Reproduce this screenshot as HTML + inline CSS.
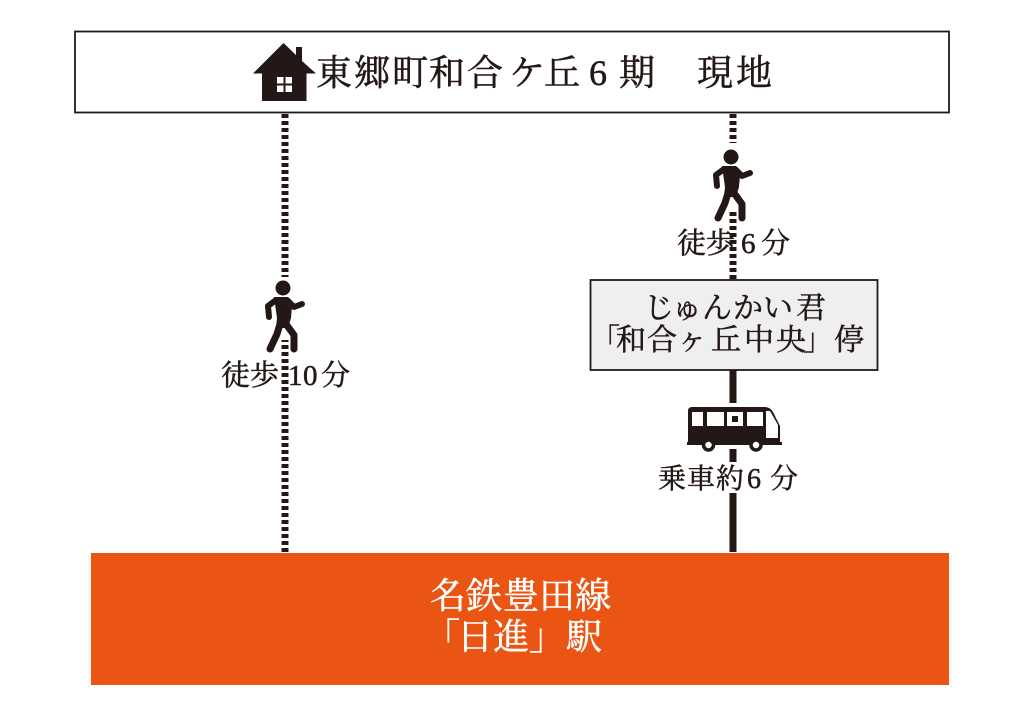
<!DOCTYPE html>
<html lang="ja">
<head>
<meta charset="utf-8">
<style>
html,body{margin:0;padding:0;background:#fff}
svg{display:block}
text{font-family:"Liberation Serif","Noto Serif CJK JP","Noto Serif CJK SC",serif;fill:#231815;stroke:#231815;stroke-width:.5}
text.w{fill:#fff;stroke:#fff}
</style>
</head>
<body>
<svg xmlns="http://www.w3.org/2000/svg" width="1024" height="716" viewBox="0 0 1024 716">
<defs>
<g id="walker">
<circle cx="0" cy="0" r="7.5" fill="#231815"/>
<path d="M4 12 L11 19 L19 16" fill="none" stroke="#231815" stroke-width="6" stroke-linecap="round" stroke-linejoin="round"/>
<path d="M-7 12 L-15 18 L-14 29" fill="none" stroke="#231815" stroke-width="6" stroke-linecap="round" stroke-linejoin="round"/>
<path d="M-9 9 L5 9 L9 18 L8 30 L5 40 L-7 40 L-6 30 Z" fill="#231815"/>
<path d="M-3 36 L-6 46 L-13 61" fill="none" stroke="#231815" stroke-width="7" stroke-linecap="round" stroke-linejoin="round"/>
<path d="M3 36 L11 47 L11 61" fill="none" stroke="#231815" stroke-width="7" stroke-linecap="round" stroke-linejoin="round"/>
</g>
</defs>
<rect width="1024" height="716" fill="#fff"/>

<!-- connectors -->
<line x1="285" y1="114" x2="285" y2="552" stroke="#231815" stroke-width="7" stroke-dasharray="4 3"/>
<line x1="733" y1="114" x2="733" y2="280" stroke="#231815" stroke-width="7" stroke-dasharray="4 3"/>
<line x1="733" y1="370" x2="733" y2="552" stroke="#231815" stroke-width="7"/>

<!-- top box -->
<rect x="75" y="31.5" width="874" height="81" fill="#fff" stroke="#231815" stroke-width="1.8"/>

<!-- house -->
<path d="M253 73.5 L283.5 43 L296 55 L296 47 L302 47 L302 61 L316 73.5 L306.5 73.5 L306.5 101 L262 101 L262 73.5 Z" fill="#231815"/>
<g fill="#fff">
<rect x="277" y="77" width="6.5" height="6.5"/><rect x="285.5" y="77" width="6.5" height="6.5"/>
<rect x="277" y="85.5" width="6.5" height="6.5"/><rect x="285.5" y="85.5" width="6.5" height="6.5"/>
</g>

<text font-size="36" y="85" x="316 354 392 429 467 509 544" lang="ja">東郷町和合ケ丘</text>
<text font-size="36" y="85" x="589">6</text>
<text font-size="36" y="85" x="619 697 736" lang="ja">期現地</text>

<!-- left walker -->
<rect x="262" y="277" width="46" height="63" fill="#fff"/>
<use href="#walker" x="283" y="288"/>
<text font-size="29" y="385" x="221 250" lang="ja">徒歩</text>
<text font-size="29" y="385" x="288 303">10</text>
<text font-size="29" y="385" x="321" lang="ja">分</text>

<!-- right walker -->
<rect x="710" y="143" width="46" height="69" fill="#fff"/>
<use href="#walker" x="731" y="157"/>
<text font-size="29" y="253" x="677 706" lang="ja">徒歩</text>
<text font-size="29" y="253" x="741">6</text>
<text font-size="29" y="253" x="761" lang="ja">分</text>

<!-- bus stop box -->
<rect x="590.5" y="280" width="287" height="90" fill="#efefef" stroke="#231815" stroke-width="1.8"/>
<text font-size="30" y="318" x="644 672 702 733 763 796" lang="ja">じゅんかい君</text>
<text font-size="30" y="350" x="590 616 647 677 711 744 776 803 834" lang="ja">「和合ヶ丘中央」停</text>

<!-- bus -->
<rect x="685" y="403" width="97" height="46" fill="#fff"/>
<rect x="726" y="462" width="14" height="31" fill="#fff"/>
<path d="M692 407 L765 407 Q770 407 773 412 L780 426 L780 442 L782 442 L782 445 L687 445 L687 442 L688 442 L688 411 Q688 407 692 407 Z" fill="#231815"/>
<g fill="#fff">
<rect x="692" y="412" width="11" height="14"/>
<rect x="707" y="412" width="17" height="14"/>
<rect x="727" y="412" width="16" height="14"/>
<rect x="747" y="412" width="16" height="14"/>
<path d="M766 411 L770 411 L778 425 L778 438 L766 438 Z"/>
</g>
<rect x="732" y="416" width="6" height="6" fill="#231815"/>
<circle cx="708.5" cy="445" r="5" fill="#fff" stroke="#231815" stroke-width="3.5"/>
<circle cx="756" cy="445" r="5" fill="#fff" stroke="#231815" stroke-width="3.5"/>

<text font-size="28" y="488" x="658 687 716" lang="ja">乗車約</text>
<text font-size="28" y="488" x="747">6</text>
<text font-size="28" y="488" x="770" lang="ja">分</text>

<!-- station -->
<rect x="91" y="553" width="858" height="132" fill="#ea5514"/>
<text class="w" font-size="36" y="608" x="430 466 503 539 575" lang="ja">名鉄豊田線</text>
<text class="w" font-size="36" y="649" x="424 457 493 529 566" lang="ja">「日進」駅</text>
</svg>
</body>
</html>
